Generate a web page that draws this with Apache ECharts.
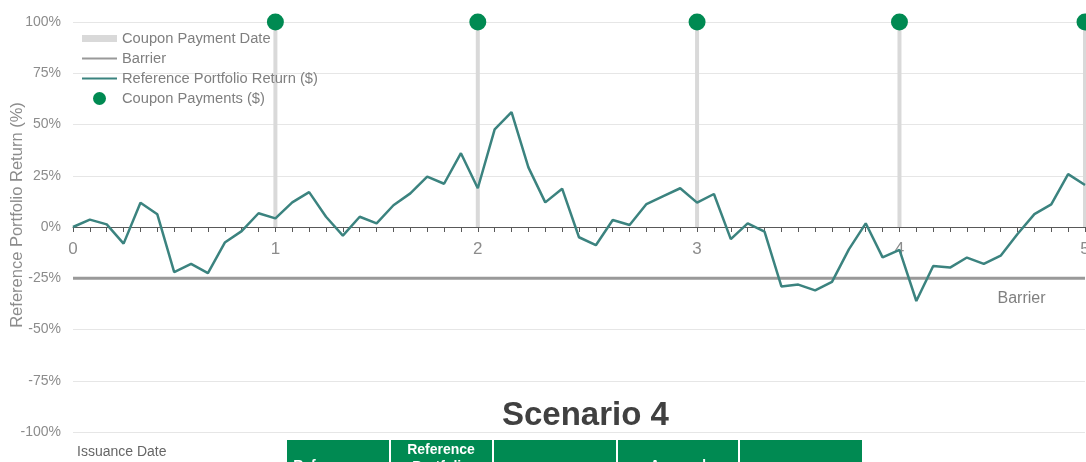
<!DOCTYPE html>
<html>
<head>
<meta charset="utf-8">
<title>Scenario 4</title>
<script src="https://cdn.jsdelivr.net/npm/echarts@6/dist/echarts.min.js"></script>
<style>
  html, body { margin: 0; padding: 0; background: #fff; }
  #main { width: 1086px; height: 462px; }
</style>
</head>
<body>
<div id="main"></div>
<script>
// x axis: one slot per month, year labels only on the coupon dates
const yearLabels = ['0', '1', '2', '3', '4', '5'];
const couponDates = [12, 24, 37, 49, 60];   // month index of each coupon date
const yearTickIdx = [0, 12, 24, 37, 49, 60];
const monthCount = 61;

// reference portfolio return, % per month
const portfolioReturn = [
  0, 3.6, 1.3, -8.1, 11.8, 6.2, -22, -18, -22.5, -7.6,
  -2, 6.7, 4.2, 12, 17, 5, -4.2, 5, 1.8, 10.6,
  16.4, 24.6, 21.1, 36, 18.9, 47.6, 56, 29.1, 12, 18.7,
  -5, -8.9, 3.4, 1, 11.2, 15.1, 18.9, 11.9, 16.1, -5.9,
  1.8, -2.3, -29, -28.1, -30.9, -26.8, -10.9, 1.8, -14.8, -11.2,
  -36.1, -19, -19.8, -14.9, -18, -14, -3.4, 6.3, 11, 25.8,
  20.5
];
const barrierLevel = -25;
const couponLevel = 100;
const barrierLabelIdx = 56;

const yTicks = { min: -100, max: 100, step: 25 };

const categories = [];
for (let i = 0; i < monthCount; i++) {
  const k = yearTickIdx.indexOf(i);
  categories.push(k >= 0 ? yearLabels[k] : '');
}
const couponBars = categories.map((c, i) => couponDates.includes(i) ? couponLevel : '-');
const couponDots = categories.map((c, i) => couponDates.includes(i) ? couponLevel : '-');
const barrierData = categories.map(() => barrierLevel);

const font = "'Liberation Sans', Arial, sans-serif";
const chart = echarts.init(document.getElementById('main'));

// grid: top 22, bottom 30 -> x axis sits on the 0% line
const gridTop = 22, gridBottom = 30, chartH = 462;
const zeroOffset = (chartH - gridTop - gridBottom) * (0 - yTicks.min) / (yTicks.max - yTicks.min);
const lineIcon = 'path://M0,0H35V2H0Z';

const option = {
  animation: false,
  textStyle: { fontFamily: font },
  grid: { left: 73, right: 1, top: gridTop, bottom: gridBottom, outerBoundsMode: 'none', containLabel: false },
  legend: [
    {
      orient: 'vertical',
      left: 82,
      top: 31,
      padding: 0,
      itemWidth: 35,
      itemHeight: 7,
      itemGap: 5,
      itemStyle: {},
      textStyle: { color: '#7f7f7f', fontSize: 14.7, fontFamily: font },
      data: [
        { name: 'Coupon Payment Date', icon: 'rect' },
        { name: 'Barrier', icon: lineIcon },
        { name: 'Reference Portfolio Return ($)', icon: lineIcon }
      ]
    },
    {
      orient: 'vertical',
      left: 93,
      top: 91,
      padding: 0,
      itemWidth: 35,
      itemHeight: 13,
      textStyle: { color: '#7f7f7f', fontSize: 14.7, fontFamily: font },
      data: ['Coupon Payments ($)']
    }
  ],
  xAxis: {
    type: 'category',
    data: categories,
    boundaryGap: false,
    position: 'bottom',
    offset: -zeroOffset,
    axisLine: { onZero: false, lineStyle: { color: '#595959', width: 1 } },
    axisTick: { show: true, interval: 0, length: 5, lineStyle: { color: '#595959' } },
    axisLabel: { interval: 0, color: '#8c8c8c', fontSize: 17, margin: 14 },
    splitLine: { show: false }
  },
  yAxis: {
    type: 'value',
    min: yTicks.min,
    max: yTicks.max,
    interval: yTicks.step,
    name: 'Reference Portfolio Return (%)',
    nameLocation: 'middle',
    nameGap: 47,
    nameMoveOverlap: false,
    nameTextStyle: { color: '#8c8c8c', fontSize: 16.5, padding: [0, 0, 0, 24] },
    axisLine: { show: false },
    axisTick: { show: false },
    axisLabel: { formatter: '{value}%', color: '#8c8c8c', fontSize: 14, margin: 12 },
    splitLine: { lineStyle: { color: '#e6e6e6', width: 1 } }
  },
  series: [
    {
      name: 'Coupon Payment Date',
      type: 'bar',
      data: couponBars,
      barWidth: 4,
      itemStyle: { color: '#d9d9d9' },
      z: 1
    },
    {
      name: 'Barrier',
      type: 'line',
      data: barrierData,
      symbol: 'none',
      lineStyle: { color: '#999999', width: 3 },
      itemStyle: { color: '#999999' },
      markPoint: {
        symbol: 'circle',
        symbolSize: 0,
        label: { show: true, position: 'bottom', distance: 12, offset: [4, 0], formatter: 'Barrier', color: '#808080', fontSize: 16 },
        data: [{ coord: [barrierLabelIdx, barrierLevel] }]
      },
      z: 2
    },
    {
      name: 'Reference Portfolio Return ($)',
      type: 'line',
      data: portfolioReturn,
      symbol: 'none',
      lineStyle: { color: '#3b837f', width: 2.5 },
      itemStyle: { color: '#3b837f' },
      z: 3
    },
    {
      name: 'Coupon Payments ($)',
      type: 'scatter',
      data: couponDots,
      symbolSize: 17,
      itemStyle: { color: '#008a52', opacity: 1 },
      z: 4
    }
  ],
  graphic: [
    {
      type: 'text',
      left: 502,
      top: 399,
      style: { text: 'Scenario 4', font: 'bold 33px ' + font, fill: '#404040' }
    },
    {
      type: 'text',
      left: 77,
      top: 445,
      style: { text: 'Issuance Date', font: '14px ' + font, fill: '#666666' }
    },
    {
      type: 'group',
      left: 287,
      top: 440,
      children: [
        { type: 'rect', shape: { x: 0, y: 0, width: 102, height: 40 }, style: { fill: '#008a52' } },
        { type: 'rect', shape: { x: 104, y: 0, width: 101, height: 40 }, style: { fill: '#008a52' } },
        { type: 'rect', shape: { x: 207, y: 0, width: 122, height: 40 }, style: { fill: '#008a52' } },
        { type: 'rect', shape: { x: 331, y: 0, width: 120, height: 40 }, style: { fill: '#008a52' } },
        { type: 'rect', shape: { x: 453, y: 0, width: 122, height: 40 }, style: { fill: '#008a52' } },
        { type: 'text', x: 40, y: 19, style: { text: 'Reference', font: 'bold 14px ' + font, fill: '#fff', align: 'center' } },
        { type: 'text', x: 154, y: 2, style: { text: 'Reference\nPortfolio', font: 'bold 14px ' + font, fill: '#fff', align: 'center', lineHeight: 17 } },
        { type: 'text', x: 391, y: 19, style: { text: 'Accrued', font: 'bold 14px ' + font, fill: '#fff', align: 'center' } }
      ]
    }
  ]
};

chart.setOption(option);
</script>
</body>
</html>
